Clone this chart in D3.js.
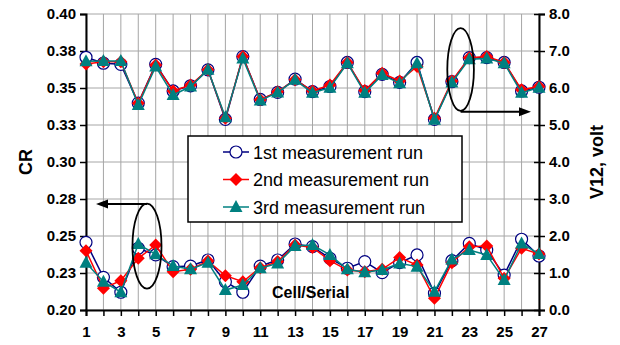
<!DOCTYPE html>
<html>
<head>
<meta charset="utf-8">
<script src="https://cdn.jsdelivr.net/npm/d3@7"></script>
<style>
  body { margin: 0; background: #fff; }
  svg { display: block; font-family: "Liberation Sans", Arial, sans-serif; }
</style>
</head>
<body>
<svg id="chart"></svg>
<script>
const cells = [1, 2, 3, 4, 5, 6, 7, 8, 9, 10, 11, 12, 13, 14, 15, 16, 17, 18, 19, 20, 21, 22, 23, 24, 25, 26, 27];

// V12 (right axis), three runs
const v12Run1 = [6.83, 6.67, 6.64, 5.59, 6.64, 5.92, 6.06, 6.49, 5.15, 6.85, 5.69, 5.88, 6.24, 5.90, 6.04, 6.69, 5.90, 6.37, 6.15, 6.69, 5.15, 6.17, 6.82, 6.82, 6.69, 5.92, 6.02];
const v12Run2 = [6.65, 6.71, 6.71, 5.59, 6.62, 5.92, 6.08, 6.49, 5.18, 6.85, 5.68, 5.90, 6.22, 5.92, 6.08, 6.69, 5.93, 6.40, 6.19, 6.58, 5.18, 6.19, 6.82, 6.85, 6.69, 5.95, 6.04];
const v12Run3 = [6.72, 6.73, 6.73, 5.54, 6.58, 5.81, 6.04, 6.49, 5.21, 6.80, 5.66, 5.88, 6.22, 5.87, 6.01, 6.67, 5.87, 6.35, 6.13, 6.67, 5.14, 6.15, 6.78, 6.80, 6.67, 5.87, 6.01];

// CR (left axis), three runs
const crRun1 = [0.2457, 0.2221, 0.2120, 0.2417, 0.2372, 0.2293, 0.2297, 0.2338, 0.2191, 0.2120, 0.2297, 0.2338, 0.2446, 0.2428, 0.2349, 0.2282, 0.2327, 0.2252, 0.2320, 0.2372, 0.2113, 0.2333, 0.2450, 0.2405, 0.2236, 0.2478, 0.2365];
const crRun2 = [0.2401, 0.2147, 0.2198, 0.2349, 0.2439, 0.2259, 0.2275, 0.2331, 0.2232, 0.2191, 0.2286, 0.2327, 0.2439, 0.2423, 0.2333, 0.2270, 0.2259, 0.2275, 0.2354, 0.2304, 0.2079, 0.2320, 0.2428, 0.2432, 0.2214, 0.2417, 0.2378];
const crRun3 = [0.2320, 0.2191, 0.2120, 0.2446, 0.2376, 0.2297, 0.2275, 0.2320, 0.2135, 0.2169, 0.2282, 0.2315, 0.2432, 0.2439, 0.2372, 0.2275, 0.2255, 0.2270, 0.2315, 0.2293, 0.2124, 0.2342, 0.2405, 0.2372, 0.2203, 0.2450, 0.2378];

const leftTicks = [0.2, 0.225, 0.25, 0.275, 0.3, 0.325, 0.35, 0.375, 0.4];
const leftTickLabels = ["0.20", "0.23", "0.25", "0.28", "0.30", "0.33", "0.35", "0.38", "0.40"];
const rightTicks = [0, 1, 2, 3, 4, 5, 6, 7, 8];
const xLabelTicks = [1, 3, 5, 7, 9, 11, 13, 15, 17, 19, 21, 23, 25, 27];
const runNames = ["1st measurement run", "2nd measurement run", "3rd measurement run"];

const width = 620;
const height = 345;
const margin = { top: 14, right: 81, bottom: 35, left: 86 };

const svg = d3.select("#chart")
  .attr("width", width)
  .attr("height", height);

const x = d3.scaleLinear()
  .domain([1, 27])
  .range([margin.left, width - margin.right]);

const yLeft = d3.scaleLinear()
  .domain([0.2, 0.4])
  .range([height - margin.bottom, margin.top]);

const yRight = d3.scaleLinear()
  .domain([0, 8])
  .range([height - margin.bottom, margin.top]);

// grid
svg.append("g")
  .selectAll("line")
  .data(cells)
  .enter()
  .append("line")
  .attr("x1", d => x(d)).attr("x2", d => x(d))
  .attr("y1", margin.top).attr("y2", height - margin.bottom)
  .attr("stroke", "#a6a6a6").attr("stroke-width", 1);

svg.append("g")
  .selectAll("line")
  .data(leftTicks)
  .enter()
  .append("line")
  .attr("x1", margin.left).attr("x2", width - margin.right)
  .attr("y1", d => yLeft(d)).attr("y2", d => yLeft(d))
  .attr("stroke", "#a6a6a6").attr("stroke-width", 1);

// axes
const leftAxis = svg.append("g")
  .attr("transform", `translate(${margin.left},0)`)
  .call(d3.axisLeft(yLeft).tickValues(leftTicks).tickFormat((d, i) => leftTickLabels[i]).tickSize(6).tickPadding(4));

const rightAxis = svg.append("g")
  .attr("transform", `translate(${width - margin.right},0)`)
  .call(d3.axisRight(yRight).tickValues(rightTicks).tickFormat(d3.format(".1f")).tickSize(6).tickPadding(4));
rightAxis.selectAll(".tick line").attr("x1", -5);

const bottomAxis = svg.append("g")
  .attr("transform", `translate(0,${height - margin.bottom})`)
  .call(d3.axisBottom(x).tickValues(cells).tickFormat(d => xLabelTicks.includes(d) ? d : "").tickSize(6).tickPadding(10));

[leftAxis, rightAxis, bottomAxis].forEach(ax => {
  ax.select(".domain").attr("stroke", "#000").attr("stroke-width", 2);
  ax.selectAll(".tick line").attr("stroke", "#000").attr("stroke-width", 1.5);
  ax.selectAll("text")
    .attr("fill", "#000")
    .style("font-size", "15px")
    .style("font-weight", "bold")
    .style("font-family", "'Liberation Sans', Arial, sans-serif");
});

// axis titles
svg.append("text")
  .attr("transform", `translate(32,${yLeft(0.3)}) rotate(-90)`)
  .attr("text-anchor", "middle")
  .style("font-size", "18px").style("font-weight", "bold")
  .text("CR");

svg.append("text")
  .attr("transform", `translate(603,${yRight(4)}) rotate(-90)`)
  .attr("text-anchor", "middle")
  .style("font-size", "18px").style("font-weight", "bold")
  .text("V12, volt");

svg.append("text")
  .attr("x", 272).attr("y", 298)
  .style("font-size", "16px").style("font-weight", "bold")
  .text("Cell/Serial");

// series
const styles = [
  { color: "#000080", shape: "circle" },
  { color: "#ff0000", shape: "diamond" },
  { color: "#008080", shape: "triangle" }
];

const series = [
  { values: crRun1, y: yLeft, s: 0 },
  { values: crRun2, y: yLeft, s: 1 },
  { values: crRun3, y: yLeft, s: 2 },
  { values: v12Run1, y: yRight, s: 0 },
  { values: v12Run2, y: yRight, s: 1 },
  { values: v12Run3, y: yRight, s: 2 }
];

function drawMarker(g, shape, color) {
  if (shape === "circle") {
    g.append("circle").attr("r", 6)
      .attr("fill", "#fff").attr("stroke", color).attr("stroke-width", 1.2);
  } else if (shape === "diamond") {
    g.append("path").attr("d", "M0,-6.5L6.5,0L0,6.5L-6.5,0Z").attr("fill", color);
  } else {
    g.append("path").attr("d", "M0,-7L6.5,5L-6.5,5Z").attr("fill", color);
  }
}

[0, 1, 2].forEach(k => {
  series.filter(d => d.s === k).forEach(ser => {
    const st = styles[ser.s];
    const line = d3.line()
      .x((d, i) => x(cells[i]))
      .y(d => ser.y(d));
    svg.append("path")
      .datum(ser.values)
      .attr("fill", "none")
      .attr("stroke", st.color)
      .attr("stroke-width", 1.5)
      .attr("d", line);
    svg.append("g")
      .selectAll("g")
      .data(ser.values)
      .enter()
      .append("g")
      .attr("transform", (d, i) => `translate(${x(cells[i])},${ser.y(d)})`)
      .each(function () { drawMarker(d3.select(this), st.shape, st.color); });
  });
});

// annotations: ellipse + arrow pointing at the axis each group belongs to
function arrow(x1, x2, y) {
  const dir = x2 > x1 ? 1 : -1;
  svg.append("line")
    .attr("x1", x1).attr("y1", y)
    .attr("x2", x2 - dir * 10).attr("y2", y)
    .attr("stroke", "#000").attr("stroke-width", 2);
  svg.append("path")
    .attr("d", `M${x2},${y}L${x2 - dir * 12},${y - 4.5}L${x2 - dir * 12},${y + 4.5}Z`)
    .attr("fill", "#000");
}

svg.append("ellipse")
  .attr("cx", x(4.5)).attr("cy", yLeft(0.2432))
  .attr("rx", 14.5).attr("ry", 42.5)
  .attr("fill", "none").attr("stroke", "#000").attr("stroke-width", 1.8);
arrow(x(4.5), 96, yLeft(0.2716));

svg.append("ellipse")
  .attr("cx", x(22.5)).attr("cy", yRight(6.5))
  .attr("rx", 13.3).attr("ry", 41.3)
  .attr("fill", "none").attr("stroke", "#000").attr("stroke-width", 1.8);
arrow(x(22.5), 531, yRight(5.36));

// legend
const legend = svg.append("g").attr("transform", "translate(188,136)");
legend.append("rect")
  .attr("width", 274).attr("height", 86)
  .attr("fill", "#fff").attr("stroke", "#000").attr("stroke-width", 1.5);

runNames.forEach((name, i) => {
  const yy = 16 + i * 27.5;
  const row = legend.append("g").attr("transform", `translate(0,${yy})`);
  row.append("line")
    .attr("x1", 35).attr("x2", 61)
    .attr("stroke", styles[i].color).attr("stroke-width", 1.5);
  drawMarker(row.append("g").attr("transform", "translate(48,0)"), styles[i].shape, styles[i].color);
  row.append("text")
    .attr("x", 65).attr("y", 6.5)
    .style("font-size", "18px")
    .text(name);
});
</script>
</body>
</html>
